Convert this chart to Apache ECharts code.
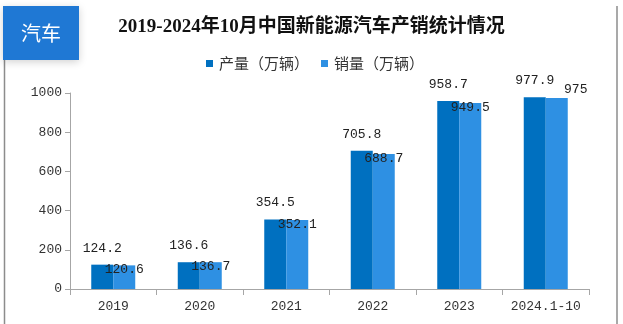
<!DOCTYPE html>
<html>
<head>
<meta charset="utf-8">
<script src="https://cdn.jsdelivr.net/npm/echarts@6/dist/echarts.min.js"></script>
<style>
  html, body { margin: 0; padding: 0; background: #fff; }
  #chart { width: 623px; height: 324px; }
</style>
</head>
<body>
<div id="chart"></div>
<script>
// 2019–2024.10 China NEV production & sales (10k units)
const years = ['2019', '2020', '2021', '2022', '2023', '2024.1-10'];
const production = [124.2, 136.6, 354.5, 705.8, 958.7, 977.9];
const sales = [120.6, 136.7, 352.1, 688.7, 949.5, 975];
const yTicks = { min: 0, max: 1000, interval: 200 };

const numFont = '"Liberation Mono", "DejaVu Sans Mono", monospace';
const cjkFont = '"Noto Sans CJK SC", sans-serif';

const chart = echarts.init(document.getElementById('chart'), null, { renderer: 'canvas' });

chart.setOption({
  backgroundColor: '#ffffff',
  animation: false,
  title: {
    text: '2019-2024年10月中国新能源汽车产销统计情况',
    left: 'center',
    top: 13,
    textStyle: {
      fontFamily: '"Liberation Serif", "Noto Sans CJK SC", serif',
      fontWeight: 'bold',
      fontSize: 19,
      color: '#111'
    }
  },
  legend: {
    left: 201,
    top: 51,
    icon: 'rect',
    itemWidth: 7,
    itemHeight: 7,
    itemGap: 12,
    textStyle: { fontFamily: cjkFont, fontSize: 15, color: '#333', padding: [0, 0, 0, 1] },
    data: ['产量（万辆）', '销量（万辆）']
  },
  grid: { left: 70, right: 34, top: 93, bottom: 35 },
  xAxis: {
    type: 'category',
    data: years,
    axisLine: { lineStyle: { color: '#a6a6a6', width: 1 } },
    axisTick: { show: true, length: 6, lineStyle: { color: '#a6a6a6' } },
    axisLabel: { interval: 0, fontFamily: numFont, fontSize: 13, color: '#333', margin: 11 }
  },
  yAxis: {
    type: 'value',
    min: yTicks.min,
    max: yTicks.max,
    interval: yTicks.interval,
    axisLine: { show: true, lineStyle: { color: '#a6a6a6', width: 1 } },
    axisTick: { show: true, length: 5, lineStyle: { color: '#a6a6a6' } },
    splitLine: { show: false },
    axisLabel: {
      fontFamily: numFont,
      fontSize: 13,
      color: '#333',
      margin: 8,
      formatter: (v) => String(v)
    }
  },
  series: [
    {
      name: '产量（万辆）',
      type: 'bar',
      barWidth: 22,
      barGap: '0%',
      data: production,
      itemStyle: { color: '#0070c0' },
      label: {
        show: true,
        position: 'top',
        distance: 10,
        fontFamily: numFont,
        fontSize: 13,
        color: '#222'
      }
    },
    {
      name: '销量（万辆）',
      type: 'bar',
      barWidth: 22,
      data: sales.map((v, i) => i === sales.length - 1
        ? { value: v, label: { offset: [19, 3] } }
        : v),
      itemStyle: { color: '#2e90e3' },
      label: {
        show: true,
        position: 'top',
        distance: 5,
        offset: [0, 16],
        fontFamily: numFont,
        fontSize: 13,
        color: '#222'
      }
    }
  ],
  graphic: [
    {
      type: 'line',
      shape: { x1: 4.5, y1: 6, x2: 4.5, y2: 324 },
      style: { stroke: '#8c8c8c', lineWidth: 1.5 }
    },
    {
      type: 'line',
      shape: { x1: 617, y1: 6, x2: 617, y2: 324 },
      style: { stroke: '#8c8c8c', lineWidth: 1.5 }
    },
    {
      type: 'rect',
      shape: { x: 3, y: 6, width: 76, height: 54 },
      style: {
        fill: '#1f78d4',
        shadowBlur: 8,
        shadowColor: 'rgba(0,0,0,0.18)',
        shadowOffsetY: 2
      },
      z: 10
    },
    {
      type: 'text',
      x: 41,
      y: 33,
      style: {
        text: '汽车',
        fill: '#ffffff',
        font: '20px "Noto Sans CJK SC", sans-serif',
        textAlign: 'center',
        textVerticalAlign: 'middle'
      },
      z: 11
    }
  ]
});
</script>
</body>
</html>
